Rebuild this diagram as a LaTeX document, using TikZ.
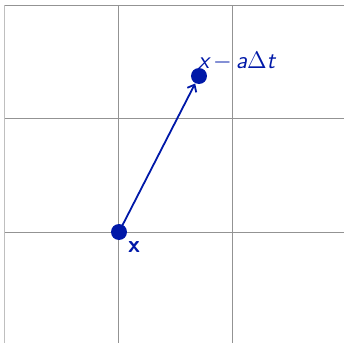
\documentclass[tikz,border=0pt]{standalone}
\usepackage{fontspec}
\usetikzlibrary{arrows.meta}
\definecolor{ptblue}{RGB}{0,24,168}
\begin{document}
\begin{tikzpicture}[x=0.5pt,y=-0.5pt,
  gridline/.style={draw=gray!85,line width=0.5pt},
  dot/.style={circle,fill=ptblue,inner sep=0pt,minimum size=8pt},
  vec/.style={draw=ptblue,line width=0.9pt,-{Straight Barb[length=3pt,width=5pt]}},
  lbl/.style={text=ptblue,font=\sffamily\large,inner sep=0pt}]
\useasboundingbox (0,0) rectangle (344,343);
\draw[gridline,draw=gray!50] (5,5) -- (5,343);
\draw[gridline] (119,5) -- (119,343);
\draw[gridline] (233,5) -- (233,343);
\draw[gridline] (5,5) -- (344,5);
\draw[gridline] (5,118) -- (344,118);
\draw[gridline] (5,232) -- (344,232);
\node[dot] (p) at (119,232) {};
\node[dot] (q) at (199,76) {};
\draw[vec] (p.center) -- (q);
\node[lbl,font=\sffamily\bfseries\large] (px) at (134,247) {x};
\node[lbl,anchor=base west] (qx) at (198,68) {\itshape x\,$-$\,a$\Delta$t};
\end{tikzpicture}
\end{document}
